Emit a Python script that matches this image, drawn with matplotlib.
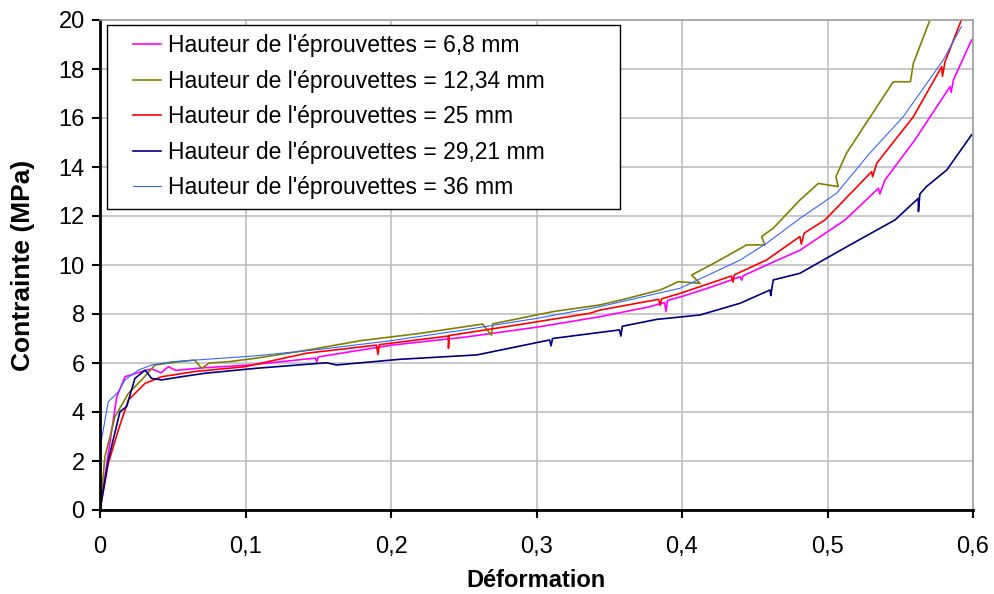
import matplotlib
matplotlib.use("Agg")
import matplotlib.pyplot as plt
from matplotlib.lines import Line2D
from matplotlib.legend_handler import HandlerLine2D
from matplotlib.ticker import FuncFormatter, MultipleLocator

plt.rcParams['font.family'] = ['Liberation Sans', 'DejaVu Sans']

# Courbes contrainte-déformation pour chaque hauteur d'éprouvette
labels = [
    "Hauteur de l'éprouvettes = 6,8 mm",
    "Hauteur de l'éprouvettes = 12,34 mm",
    "Hauteur de l'éprouvettes = 25 mm",
    "Hauteur de l'éprouvettes = 29,21 mm",
    "Hauteur de l'éprouvettes = 36 mm",
]

def_68 = [0, 0.0057, 0.0115, 0.0172, 0.0287, 0.0355, 0.042, 0.047, 0.052, 0.07, 0.103,
          0.148, 0.149, 0.15, 0.2005, 0.25, 0.300, 0.3436, 0.378, 0.388, 0.389, 0.390,
          0.3997, 0.42, 0.44, 0.441, 0.442, 0.46, 0.481, 0.5121, 0.535, 0.536, 0.5395,
          0.56, 0.5842, 0.585, 0.5865, 0.599]
con_68 = [0, 2.31, 4.62, 5.44, 5.65, 5.76, 5.6, 5.85, 5.7, 5.8, 5.92,
          6.2, 6.05, 6.25, 6.73, 7.05, 7.46, 7.89, 8.3, 8.47, 8.1, 8.55,
          8.71, 9.1, 9.52, 9.38, 9.56, 10.05, 10.6, 11.84, 13.13, 12.9, 13.47,
          15.1, 17.28, 17.05, 17.55, 19.18]

def_1234 = [0, 0.0034, 0.0103, 0.0195, 0.0286, 0.0378, 0.054, 0.065, 0.07, 0.075, 0.088,
            0.1065, 0.14, 0.179, 0.22, 0.263, 0.269, 0.27, 0.3115, 0.3436, 0.36, 0.385,
            0.3975, 0.4124, 0.4066, 0.4238, 0.4444, 0.457, 0.4547, 0.4627, 0.481, 0.4937,
            0.5074, 0.5058, 0.513, 0.5452, 0.557, 0.559, 0.5704]
con_1234 = [0, 2.18, 3.81, 4.76, 5.31, 5.92, 6.05, 6.12, 5.78, 6.0, 6.05,
            6.19, 6.5, 6.91, 7.21, 7.59, 7.14, 7.6, 8.1, 8.37, 8.6, 8.98,
            9.32, 9.25, 9.59, 10.13, 10.82, 10.82, 11.16, 11.5, 12.65, 13.33,
            13.2, 13.6, 14.56, 17.48, 17.48, 18.23, 20.0]

def_25 = [0, 0.0057, 0.0126, 0.0195, 0.031, 0.0424, 0.065, 0.0997, 0.142, 0.19, 0.191,
          0.192, 0.2394, 0.2395, 0.24, 0.2864, 0.3368, 0.3436, 0.384, 0.385, 0.386,
          0.3986, 0.434, 0.435, 0.436, 0.458, 0.481, 0.482, 0.484, 0.4983, 0.5303, 0.531,
          0.5338, 0.559, 0.5785, 0.579, 0.5808, 0.592]
con_25 = [0, 1.9, 3.27, 4.49, 5.17, 5.44, 5.65, 5.85, 6.4, 6.73, 6.35,
          6.75, 7.1, 6.6, 7.12, 7.55, 8.03, 8.16, 8.6, 8.35, 8.62,
          8.84, 9.55, 9.3, 9.6, 10.2, 11.16, 10.85, 11.3, 11.84, 13.81, 13.6,
          14.15, 16.05, 18.1, 17.7, 18.3, 20.0]

def_2921 = [0, 0.0057, 0.0137, 0.0183, 0.024, 0.031, 0.0355, 0.0424, 0.056, 0.072, 0.1065,
            0.1557, 0.1626, 0.206, 0.259, 0.309, 0.31, 0.311, 0.357, 0.358, 0.359, 0.3826,
            0.4124, 0.44, 0.4605, 0.461, 0.4627, 0.481, 0.5155, 0.5464, 0.5624, 0.5625,
            0.5635, 0.568, 0.582, 0.599]
con_2921 = [0, 2.04, 4.01, 4.22, 5.37, 5.71, 5.37, 5.31, 5.44, 5.58, 5.78,
            6.01, 5.92, 6.15, 6.33, 6.94, 6.7, 7.0, 7.35, 7.1, 7.5, 7.78,
            7.96, 8.44, 8.98, 8.75, 9.39, 9.66, 10.82, 11.84, 12.72, 12.18,
            12.9, 13.2, 13.88, 15.31]

def_36 = [0, 0.0005, 0.001, 0.0057, 0.0126, 0.0172, 0.0263, 0.0355, 0.049, 0.1065, 0.15,
          0.2, 0.25, 0.3, 0.3436, 0.3986, 0.4399, 0.458, 0.481, 0.5063, 0.529, 0.552,
          0.5796, 0.592]
con_36 = [0, 1.5, 2.86, 4.42, 4.83, 5.31, 5.71, 5.92, 6.05, 6.29, 6.55,
          6.91, 7.35, 7.82, 8.3, 9.05, 10.2, 10.88, 11.9, 12.93, 14.56, 16.05,
          18.37, 19.73]

series = [(def_68, con_68), (def_1234, con_1234), (def_25, con_25),
          (def_2921, con_2921), (def_36, con_36)]
colors = ['#ff00ff', '#808000', '#ff0000', '#000080', '#3366ff']
widths = [1.2, 1.2, 1.2, 1.2, 0.8]

fig = plt.figure(figsize=(9.94, 5.94), dpi=100)
ax = fig.add_axes([100 / 994, 1 - 510 / 594, 873 / 994, 490 / 594])

for (x, y), c, w, lab in zip(series, colors, widths, labels):
    ax.plot(x, y, color=c, lw=w, label=lab)

ax.set_xlim(0, 0.6)
ax.set_ylim(0, 20)
ax.xaxis.set_major_locator(MultipleLocator(0.1))
ax.yaxis.set_major_locator(MultipleLocator(2))
ax.xaxis.set_major_formatter(FuncFormatter(lambda v, p: ('%g' % round(v, 2)).replace('.', ',')))
ax.grid(True, color='#c0c0c0', lw=1.2)
ax.set_axisbelow(True)

for s in ['top', 'right']:
    ax.spines[s].set_color('#a0a0a0')
    ax.spines[s].set_linewidth(1.2)
for s in ['left', 'bottom']:
    ax.spines[s].set_color('black')
    ax.spines[s].set_linewidth(2)

ax.tick_params(direction='out', length=6, width=1.5, labelsize=17, color='black')
ax.tick_params(axis='x', pad=13)
ax.tick_params(axis='y', pad=5)
ax.set_xlabel('Déformation', fontsize=17, fontweight='bold')
ax.set_ylabel('Contrainte (MPa)', fontsize=19, fontweight='bold')
ax.xaxis.set_label_coords(0.5, -0.12)
ax.yaxis.set_label_coords(-0.074, 0.5)

# légende encadrée, étirée vers la droite, traits courts décalés du bord
leg = ax.legend(loc='upper left', bbox_to_anchor=(0.008, 0.99, 0.588, 0.0), mode='expand',
                fontsize=16.5, handlelength=1.97, handletextpad=0.3, borderpad=0.4,
                labelspacing=0.55, fancybox=False, framealpha=1, edgecolor='black',
                borderaxespad=0, handler_map={Line2D: HandlerLine2D(xpad=0.74)})
leg.get_frame().set_linewidth(1)

fig.savefig('out.png', dpi=100)
